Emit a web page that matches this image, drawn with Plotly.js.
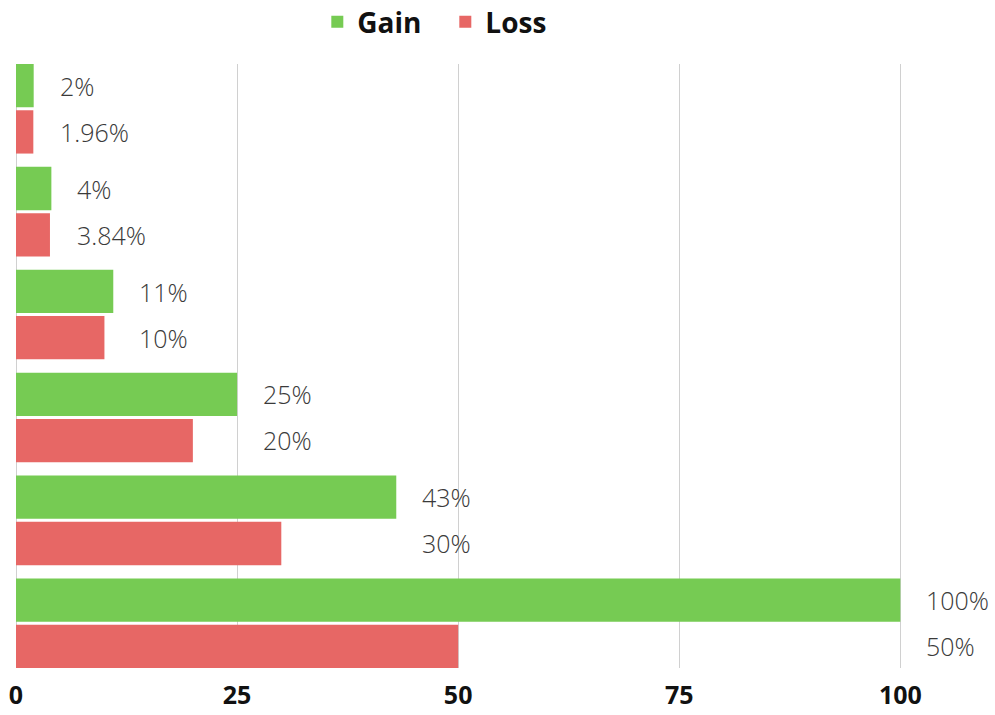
<!DOCTYPE html>
<html>
<head>
<meta charset="utf-8">
<script src="https://cdn.plot.ly/plotly-3.0.1.min.js"></script>
<style>html,body{margin:0;padding:0;background:#fff;}#chart{width:995px;height:715px;}</style>
</head>
<body>
<div id="chart"></div>
<script>
const categories = ["A", "B", "C", "D", "E", "F"];
const gainValues = [2, 4, 11, 25, 43, 100];
const lossValues = [1.96, 3.84, 10, 20, 30, 50];
const gainLabels = ["2%", "4%", "11%", "25%", "43%", "100%"];
const lossLabels = ["1.96%", "3.84%", "10%", "20%", "30%", "50%"];
const xTicks = [0, 25, 50, 75, 100];

const GREEN = "#76CB53";
const RED = "#E76765";
const FONT = "Open Sans";

const traces = [
  {type: "bar", orientation: "h", name: "Gain", y: categories, x: gainValues,
   marker: {color: GREEN}, hoverinfo: "none"},
  {type: "bar", orientation: "h", name: "Loss", y: categories, x: lossValues,
   marker: {color: RED}, hoverinfo: "none"}
];

const annotations = [];
categories.forEach((c, i) => {
  const xm = Math.max(gainValues[i], lossValues[i]);
  annotations.push({x: xm, y: c, xref: "x", yref: "y", text: gainLabels[i], showarrow: false,
    xanchor: "left", yanchor: "middle", xshift: 24, yshift: 23,
    font: {family: FONT, size: 25, weight: 300, color: "#3a3a3a"}});
  annotations.push({x: xm, y: c, xref: "x", yref: "y", text: lossLabels[i], showarrow: false,
    xanchor: "left", yanchor: "middle", xshift: 24, yshift: -23,
    font: {family: FONT, size: 25, weight: 300, color: "#3a3a3a"}});
});

const layout = {
  width: 995, height: 715,
  margin: {l: 16, r: 92, t: 64, b: 47, pad: 0, autoexpand: false},
  paper_bgcolor: "#fff", plot_bgcolor: "#fff",
  barmode: "group", bargap: 0.1, bargroupgap: 0.065,
  font: {family: FONT},
  showlegend: true,
  legend: {orientation: "h", x: 0.484, xanchor: "center", yref: "paper", y: 1.0695, yanchor: "middle",
    entrywidth: 83, entrywidthmode: "pixels",
    font: {family: FONT, size: 28, weight: 700, color: "#111"}, traceorder: "normal"},
  xaxis: {range: [0, 100.3], tickvals: xTicks, ticktext: xTicks.map(String), automargin: false,
    showgrid: true, gridcolor: "#d0d0d0", gridwidth: 1, zeroline: true, zerolinecolor: "#d0d0d0",
    zerolinewidth: 1, showline: false, ticks: "", ticklabelstandoff: 10,
    tickfont: {family: FONT, size: 25, weight: 700, color: "#111"}, fixedrange: true},
  yaxis: {type: "category", range: [5.435, -0.435], showticklabels: false, showgrid: false,
    zeroline: false, showline: false, ticks: "", fixedrange: true, automargin: false},
  annotations: annotations
};

Plotly.newPlot("chart", traces, layout, {displayModeBar: false, staticPlot: true});
</script>
</body>
</html>
